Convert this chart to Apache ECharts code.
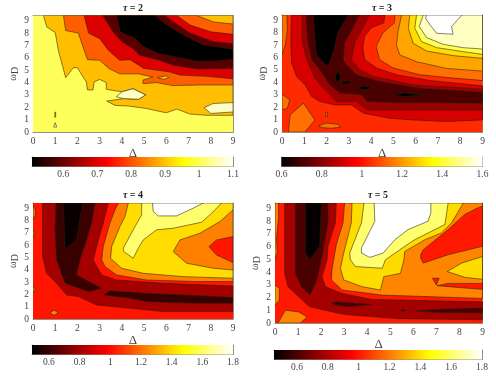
<!DOCTYPE html>
<html><head><meta charset="utf-8">
<style>html,body{margin:0;padding:0;background:#fff}#c{width:496px;height:383px;filter:blur(.4px)}</style>
<script src="https://cdn.jsdelivr.net/npm/echarts@6/dist/echarts.min.js"></script>
</head><body><div id="c"></div>
<script>
// Contour regions: [band value, [[delta, omegaD], ...]]; painted in order.
const OM_TOP = 9.42;
const deltaTicks = [0,1,2,3,4,5,6,7,8,9];
const omegaTicks = [0,1,2,3,4,5,6,7,8,9];

const tau2Bands = [
 [1.005,[[0,0],[9,0],[9,9.42],[0,9.42]]],
 [.896,[[.47,9.42],[.62,8.5],[1,8.05],[1.14,6.6],[1.47,4.4],[1.82,5.2],[2,5.2],[2.2,4.6],[2.4,4.05],[2.45,3.4],[2.7,3.4],[2.75,4.05],[3,4.25],[3.3,4],[3.3,3.45],[4,3.25],[4.5,3.5],[5.07,3],[4.75,2.65],[4.07,2.7],[3.32,2.5],[3.7,2.15],[4.3,2.1],[5.1,1.9],[6,1.55],[6.47,1.85],[7.07,1.45],[7.8,1.35],[9,1.35],[9,9.42]]],
 [1.066,[[3.75,2.85],[4,3.25],[4.5,3.5],[5.07,3],[4.75,2.65],[4.07,2.7]]],
 [1.066,[[7.7,1.97],[8.1,2.3],[9,2.38],[9,1.62],[8.4,1.55],[8,1.5]]],
 [1.066,[[.93,.4],[1.07,.4],[1,.75]]],
 [.896,[[.98,1.2],[1.02,1.2],[1.02,1.6],[.98,1.6]]],
 [.812,[[1.37,9.42],[1.47,8.2],[2.04,8],[2.2,7.15],[2.45,5.85],[3,5.8],[3.4,5.15],[3.9,4.7],[4.75,4.7],[5.4,4.45],[4.95,4.2],[4.95,3.9],[5.55,4],[6.3,3.75],[7.5,3.8],[9,3.8],[9,8.73],[8.12,8.9],[7.37,9.42]]],
 [.896,[[5.6,4.4],[6,4.55],[6.1,4.4],[5.9,4.25]]],
 [.70,[[2.3,9.42],[2.5,8],[3,7.55],[3.4,6.6],[3.9,5.8],[4.37,5.85],[4.97,5.15],[6.17,4.85],[6.6,4.6],[7.8,4.5],[9,4.3],[9,7.9],[8,8.1],[7.07,8.65],[6.47,9.42]]],
 [.585,[[3.14,9.42],[3.6,8.1],[4,7.3],[4.5,6.75],[4.8,6.2],[5.7,5.8],[6.3,5.4],[7.37,5.1],[9,5.13],[9,7.16],[8.12,7.3],[7.07,8],[6.4,8.8],[5.95,9.42]]],
 [.508,[[3.77,9.42],[3.92,8.1],[4.6,7.57],[4.97,6.9],[5.65,6.35],[7.37,5.73],[8.12,5.73],[9,5.87],[9,6.7],[7.67,7.03],[6.77,7.84],[6.02,8.65],[5.5,9.42]]]
];

const tau3Bands = [
 [1.037,[[0,0],[9,0],[9,9.42],[0,9.42]]],
 [1.14,[[0,3.05],[.35,2.6],[.24,1.9],[0,1.78]]],
 [1.14,[[0,9.42],[.22,9.42],[.24,8.2],[.15,7],[0,6.2]]],
 [1.14,[[.29,0],[.36,1.37],[.96,2.32],[1.48,.97],[1.03,0]]],
 [1.14,[[1.96,1.25],[2.04,1.25],[2.04,1.6],[1.96,1.6]]],
 [1.14,[[1.63,.5],[2,.72],[2.5,.62],[2.63,.38],[2.2,.3],[1.8,.35]]],
 [.915,[[.42,9.42],[.39,7.44],[.43,5.55],[.66,4.47],[1.03,3.8],[1.33,2.86],[1.7,2.45],[2.38,2.18],[3.12,2.18],[3.65,1.51],[4.84,1.1],[5.89,.97],[7.38,.84],[9,.97],[9,3.72],[6.64,4.15],[5.14,4.61],[4.25,5.15],[3.72,5.82],[3.63,6.77],[3.71,7.71],[4,8.38],[4.57,8.79],[4.62,9.42]]],
 [.826,[[.9,9.42],[.9,7.44],[1.11,5.82],[1.48,4.34],[1.85,3.53],[2.45,2.45],[3.35,2.45],[3.8,1.78],[5.89,1.78],[9,1.78],[9,3.45],[5.89,3.8],[4.1,4.47],[3.5,5.01],[3.12,5.82],[3.26,7.17],[3.63,8.38],[3.93,9.42]]],
 [.709,[[1.09,9.42],[1.14,7.44],[1.33,5.82],[1.7,5.01],[2.15,3.8],[2.6,3.13],[3.57,2.99],[3.83,2.45],[5.14,2.37],[9,2.32],[9,3.2],[6.19,3.53],[4.39,4.07],[3.35,4.61],[2.9,5.42],[2.75,5.82],[2.81,7.17],[3.18,8.38],[3.48,9.42]]],
 [.6,[[1.42,9.42],[1.46,7.98],[1.54,6.23],[1.99,5.36],[2.14,5.55],[2.33,6.63],[2.51,7.98],[2.96,9.42]]],
 [.6,[[2.5,4.9],[2.65,4.42],[2.5,3.95],[2.37,4.42]]],
 [.6,[[2.6,3.95],[2.9,4.15],[3.15,4],[2.85,3.85]]],
 [.6,[[3.3,3.55],[3.7,3.7],[4.1,3.55],[3.7,3.4]]],
 [.6,[[4.95,3],[5.5,3.13],[6.35,3],[5.5,2.85]]],
 [1.14,[[5.07,9.42],[5.05,8.79],[4.53,7.98],[4.23,6.9],[4.38,5.82],[4.99,5.15],[6.19,4.61],[7.68,4.34],[9,4.15],[9,9.42]]],
 [1.218,[[5.37,9.42],[5.22,8.22],[5.14,7],[5.29,6.2],[6.04,5.66],[7.38,5.12],[9,4.9],[9,9.42]]],
 [1.30,[[5.74,9.42],[5.67,8.36],[5.89,7.14],[6.49,6.52],[7.68,6.15],[9,5.93],[9,9.42]]],
 [1.433,[[6.04,9.42],[5.96,8.36],[6.26,7.28],[6.94,6.79],[8.13,6.47],[9,6.25],[9,9.42]]],
 [1.54,[[6.34,9.42],[6.16,8.49],[6.49,7.6],[7.23,7.06],[8.13,6.79],[9,6.68],[9,9.42]]],
 [1.6,[[6.46,9.42],[6.46,9.11],[6.64,8.63],[6.94,7.95],[7.68,7.87],[7.61,8.49],[8.06,9.38],[8.06,9.42]]]
];

const tau4Bands = [
 [1.022,[[0,0],[9,0],[9,9.42],[0,9.42]]],
 [1.227,[[0,9.2],[.1,8.9],[.1,8.4],[0,8.1]]],
 [1.227,[[0,7.3],[.08,7],[0,6.6]]],
 [1.227,[[0,2.75],[.1,2.4],[0,2.1]]],
 [1.227,[[.75,.5],[.95,.72],[1.15,.5],[.95,.3]]],
 [.806,[[.43,9.42],[.43,5.07],[.61,3.71],[1.06,2.9],[1.51,1.95],[2.04,1.82],[2.86,1.14],[4.36,.87],[5.86,.6],[9,.6],[9,2.68],[5.86,2.9],[3.76,3.17],[3.09,3.58],[2.71,4.8],[2.94,6.42],[3.16,7.78],[3.39,9.42]]],
 [.60,[[1.03,9.42],[.99,7.24],[1.06,4.8],[1.44,2.9],[2.49,2.22],[3.09,2.49],[1.96,3.58],[2.11,4.8],[2.41,6.42],[2.64,7.78],[2.79,9.42]]],
 [.51,[[1.36,9.42],[1.44,5.66],[1.96,6.42],[2.23,9.42]]],
 [.60,[[3.19,1.95],[3.46,2.3],[5.11,2.09],[9,1.76],[9,1.27],[7.36,1.27],[5.11,1.41],[4.36,1.68]]],
 [1.227,[[3.84,9.42],[3.69,8.86],[3.46,7.78],[3.16,5.88],[3.09,4.8],[3.24,4.25],[3.76,3.58],[5.11,3.17],[7.36,3.04],[9,3.04],[9,9.42]]],
 [1.407,[[4.29,9.42],[4.14,8.32],[3.91,7.51],[3.54,5.88],[3.49,4.93],[3.99,4.12],[4.96,3.71],[6.76,3.44],[9,3.31],[9,9.42]]],
 [1.614,[[4.89,9.42],[4.89,8.46],[4.51,7.24],[4.06,5.75],[4.09,5.47],[4.51,4.93],[4.74,5.75],[4.96,6.42],[5.56,7.24],[6.31,7.37],[7.59,7.86],[8.04,8.59],[8.49,9.42]]],
 [1.8,[[5.38,9.42],[5.41,8.73],[5.64,8.37],[6.46,8.37],[7.21,9],[7.66,9.42]]],
 [1.227,[[6.31,5.47],[6.61,6.42],[7.51,6.96],[8.41,7.91],[9,8.86],[9,3.98],[8.11,4.12],[6.91,4.53]]],
 [1.022,[[7.92,5.88],[8.26,6.42],[9,6.69],[9,4.58],[8.26,5.2]]]
];

const tau5Bands = [
 [1.007,[[0,0],[9,0],[9,9.42],[0,9.42]]],
 [1.22,[[.13,0],[.45,1],[1.03,.87],[1.39,.47],[1.1,0]]],
 [1.22,[[0,9.42],[.15,9.42],[.15,8.2],[.06,6.6],[.1,5.5],[0,5]]],
 [1.22,[[0,2.98],[.19,2.72],[.19,1.8],[0,1.4]]],
 [.779,[[.42,9.42],[.42,3.9],[.56,2.85],[1.5,1.27],[3.02,.66],[5.34,.34],[9,.26],[9,1.66],[4.21,1.85],[2.91,2.32],[2.19,2.85],[2.04,3.64],[2.26,4.96],[2.3,6.02],[2.62,7.86],[2.66,9.42]]],
 [.598,[[.88,9.42],[.88,3.9],[1.14,2.85],[1.53,2.19],[1.82,3.38],[2.04,5.22],[2.3,7.86],[2.3,9.42]]],
 [.465,[[1.32,9.42],[1.32,5.49],[1.5,4.96],[1.94,6.02],[2.01,9.42]]],
 [.598,[[2.45,1.53],[2.62,1.66],[4.21,1.45],[3.2,1.27],[2.62,1.4]]],
 [.598,[[6.09,.95],[7.1,1.08],[9,1.19],[9,.79],[7.1,.82]]],
 [.598,[[5.44,1],[5.56,1.06],[5.66,.98],[5.56,.92]]],
 [1.22,[[3.02,9.42],[2.95,7.86],[2.66,6.15],[2.47,4.17],[2.45,3.38],[2.91,2.59],[4.65,2.19],[9,1.93],[9,9.42]]],
 [1.394,[[3.34,9.42],[3.31,7.86],[2.98,5.49],[2.84,4.3],[2.98,3.38],[3.78,2.85],[4.57,2.59],[4.72,3.64],[5.44,3.9],[5.59,4.96],[5.63,5.62],[6.5,6.54],[7.22,7.07],[7.66,7.86],[8.09,9.18],[8.16,9.42]]],
 [1.61,[[3.86,9.42],[3.75,7.86],[3.24,5.49],[3.27,4.96],[3.49,4.43],[4.65,4.3],[4.79,4.96],[5.63,6.02],[6.06,6.54],[7.37,7.73],[7.51,9.42]]],
 [1.8,[[4.3,9.42],[4.33,7.99],[3.75,5.88],[3.75,5.49],[4.11,5.15],[4.69,5.49],[5.2,6.54],[5.77,7.33],[6.64,7.99],[6.76,8.65],[6.76,9.42]]],
 [1.007,[[6.32,5.36],[6.43,5.75],[7.51,7.33],[8.23,8.52],[8.81,9.05],[9,9.18],[9,6.02],[7.51,5.36],[6.43,4.7],[6.32,5.09]]],
 [1.394,[[7.47,4.04],[8.09,4.7],[9,5.22],[9,3.43],[8.23,3.59]]],
 [1.007,[[6.83,3.51],[7.12,3.51],[7,2.98]]],
 [1.007,[[7.03,2.93],[7.51,3.11],[9,3.11],[9,2.64],[8.09,2.77]]]
];

const tauNames = ['2','3','4','5'];
const bandSets = [tau2Bands, tau3Bands, tau4Bands, tau5Bands];
const scaleMin = [0.508, 0.6, 0.49, 0.451];
const scaleMax = [1.1, 1.6, 1.8, 1.8];
const scaleTicks = [[.6,.7,.8,.9,1,1.1],[.6,.8,1,1.2,1.4,1.6],[.6,.8,1,1.2,1.4,1.6,1.8],[.6,.8,1,1.2,1.4,1.6,1.8]];

// layout and style
const plots = [[33,15.5,200,116.5],[282,15,200.5,117],[33,203,200,116],[275,203,207.5,120]];
const bars = [[32,157,201,9.5],[281.5,157,201,9.5],[32,345,201,9.5],[274,350,208,9.5]];
const titleAt = [[133,3],[382,3],[133,190],[378,190]];
const serif = '"Liberation Serif","Times New Roman",serif';
const frame = '#8f8f88', ink = '#444';
const hotStops = [[0,[0,0,0]],[.375,[255,0,0]],[.75,[255,255,0]],[1,[255,255,255]]];
function hot(t){
  t = Math.max(0,Math.min(1,t));
  for(let i=1;i<hotStops.length;i++){
    if(t<=hotStops[i][0]){
      const a=hotStops[i-1],b=hotStops[i],f=(t-a[0])/(b[0]-a[0]);
      return 'rgb('+a[1].map((v,k)=>Math.round(v+(b[1][k]-v)*f)).join(',')+')';
    }
  }
  return '#fff';
}
const grid=[],xAxis=[],yAxis=[],series=[],title=[];
const fmt=v=>String(v);
function addAxes(g,xmin,xmax,ymax,xt,yt,xname,yname,labelGap){
  const line={show:true,onZero:false,lineStyle:{color:frame,width:1}};
  const lab={color:ink,fontFamily:serif,fontSize:9.5,margin:labelGap,formatter:fmt};
  xAxis.push({gridIndex:g,type:'value',min:xmin,max:xmax,position:'bottom',splitLine:{show:false},axisLine:line,
    axisTick:{show:true,inside:true,length:2,lineStyle:{color:frame},customValues:xt},
    axisLabel:Object.assign({customValues:xt},lab),
    name:xname,nameLocation:'middle',nameGap:12,nameTextStyle:{color:ink,fontFamily:serif,fontSize:13}});
  yAxis.push({gridIndex:g,type:'value',min:0,max:ymax,position:'left',splitLine:{show:false},axisLine:yt?line:{show:true,onZero:false,lineStyle:{color:frame}},
    axisTick:yt?{show:true,inside:true,length:2,lineStyle:{color:frame},customValues:yt}:{show:false},
    axisLabel:yt?Object.assign({customValues:yt},lab):{show:false},
    name:yname,nameLocation:'middle',nameGap:10,nameRotate:90,
    nameTextStyle:{rich:{w:{fontFamily:serif,fontSize:10,color:ink},d:{fontFamily:serif,fontSize:10,color:ink,verticalAlign:'bottom',padding:[3,0,0,0]}}}});
  xAxis.push({gridIndex:g,type:'value',min:xmin,max:xmax,position:'top',splitLine:{show:false},axisLine:line,axisTick:{show:false},axisLabel:{show:false}});
  yAxis.push({gridIndex:g,type:'value',min:0,max:ymax,position:'right',splitLine:{show:false},axisLine:line,axisTick:{show:false},axisLabel:{show:false}});
}
let gi=0;
bandSets.forEach((bands,p)=>{
  const lo=scaleMin[p],hi=scaleMax[p];
  // contour panel
  grid.push({left:plots[p][0],top:plots[p][1],width:plots[p][2],height:plots[p][3]});
  addAxes(gi,0,9,OM_TOP,deltaTicks,omegaTicks,'Δ','{w|ω}{d|D}',4);
  series.push({type:'custom',coordinateSystem:'cartesian2d',xAxisIndex:gi*2,yAxisIndex:gi*2,clip:true,z:2,silent:true,
    data:bands.map((b,i)=>[i,b[0]]),encode:{x:[],y:[]},
    renderItem:(params,api)=>{
      const idx=api.value(0),band=bands[idx];
      const pts=band[1].map(c=>api.coord(c));
      return {type:'polygon',shape:{points:pts},
        style:{fill:hot((band[0]-lo)/(hi-lo)),stroke:idx===0?null:'rgba(45,30,10,.8)',lineWidth:.7}};
    }});
  gi++;
  // colour bar
  grid.push({left:bars[p][0],top:bars[p][1],width:bars[p][2],height:bars[p][3]});
  addAxes(gi,lo,hi,1,scaleTicks[p],null,'','',3);
  series.push({type:'custom',coordinateSystem:'cartesian2d',xAxisIndex:gi*2,yAxisIndex:gi*2,z:2,silent:true,
    data:[[lo,hi]],encode:{x:[0,1]},
    renderItem:(params,api)=>{
      const a=api.coord([api.value(0),0]),b=api.coord([api.value(1),1]);
      return {type:'rect',shape:{x:a[0],y:b[1],width:b[0]-a[0],height:a[1]-b[1]},
        style:{fill:{type:'linear',x:0,y:0,x2:1,y2:0,colorStops:hotStops.map(s=>({offset:s[0],color:hot(s[0])}))}}};
    }});
  gi++;
  title.push({text:'{t|τ}{b| = '+tauNames[p]+'}',left:titleAt[p][0],top:titleAt[p][1],textAlign:'center',padding:0,
    textStyle:{rich:{t:{fontFamily:serif,fontStyle:'italic',fontSize:10,fontWeight:'bold',color:'#222'},b:{fontFamily:serif,fontSize:10,fontWeight:'bold',color:'#222'}}}});
});
const chart=echarts.init(document.getElementById('c'),null,{renderer:'canvas'});
chart.setOption({animation:false,backgroundColor:'#fff',title,grid,xAxis,yAxis,series});
</script></body></html>
